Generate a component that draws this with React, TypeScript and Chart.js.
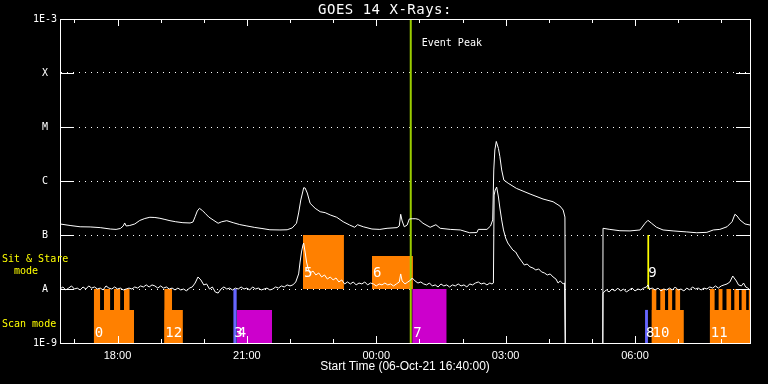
import { useEffect, useRef } from 'react';
import { Chart, registerables } from 'chart.js';

Chart.register(...registerables);

const TITLE = 'GOES 14 X-Rays:';
const X_TITLE = 'Start Time (06-Oct-21 16:40:00)';
const EVENT_LABEL = 'Event Peak';

// minutes after 16:40 start
const xTickMinutes = [20, 80, 140, 200, 260, 320, 380, 440, 500, 560, 620, 680, 740, 800, 860, 920];
const xTickLabels = ['', '18:00', '', '', '21:00', '', '', '00:00', '', '', '03:00', '', '', '06:00', '', ''];
const yTickValues = [1e-9, 1e-8, 1e-7, 1e-6, 1e-5, 1e-4, 1e-3];
const yTickLabels = ['1E-9', 'A', 'B', 'C', 'M', 'X', '1E-3'];

const eventPeakMinute = 488;

// GOES long channel (1-8 A), [minute, W/m^2]
const longChannel: [number, number][] = [
  [0, 1.6e-7], [14, 1.5e-7], [28, 1.42e-7], [42, 1.41e-7], [56, 1.37e-7], [70, 1.29e-7], [78, 1.27e-7],
  [84, 1.32e-7], [88, 1.47e-7], [90, 1.67e-7], [92, 1.47e-7], [97, 1.5e-7], [104, 1.6e-7], [111, 1.86e-7],
  [118, 2.02e-7], [125, 2.13e-7], [132, 2.11e-7], [139, 2.04e-7], [146, 1.94e-7], [153, 1.84e-7], [161, 1.76e-7],
  [171, 1.69e-7], [181, 1.67e-7], [185, 1.74e-7], [188, 2.18e-7], [191, 2.78e-7], [194, 3.12e-7], [198, 2.84e-7],
  [202, 2.52e-7], [207, 2.15e-7], [213, 1.9e-7], [220, 1.65e-7], [225, 1.76e-7], [232, 1.84e-7], [241, 1.69e-7],
  [250, 1.56e-7], [260, 1.47e-7], [271, 1.38e-7], [281, 1.32e-7], [292, 1.25e-7], [306, 1.24e-7], [316, 1.25e-7],
  [323, 1.35e-7], [329, 1.65e-7], [332, 2.56e-7], [335, 4.45e-7], [338, 6.52e-7], [339, 7.5e-7], [341, 7.42e-7],
  [344, 5.99e-7], [348, 3.86e-7], [355, 3.12e-7], [362, 2.7e-7], [369, 2.59e-7], [376, 2.35e-7], [385, 2.13e-7],
  [394, 1.76e-7], [403, 1.53e-7], [410, 1.39e-7], [414, 1.55e-7], [422, 1.42e-7], [434, 1.29e-7], [445, 1.27e-7],
  [455, 1.33e-7], [469, 1.37e-7], [472, 1.47e-7], [474, 2.42e-7], [476, 1.82e-7], [479, 1.42e-7], [483, 1.53e-7],
  [486, 1.98e-7], [490, 2.0e-7], [495, 2.0e-7], [499, 1.94e-7], [505, 1.65e-7], [515, 1.39e-7], [523, 1.55e-7],
  [529, 1.33e-7], [543, 1.27e-7], [557, 1.24e-7], [570, 1.1e-7], [580, 1.11e-7], [582, 1.27e-7], [594, 1.27e-7],
  [599, 1.47e-7], [602, 1.9e-7], [603.5, 1.6e-6], [605, 3.75e-6], [607, 5.4e-6], [610, 4.0e-6], [612, 2.82e-6],
  [614.5, 1.6e-6], [617.5, 1.04e-6], [623.5, 9.1e-7], [635, 7.3e-7], [654, 5.74e-7], [672, 4.64e-7], [686, 4.13e-7],
  [695.5, 3.44e-7], [700, 2.9e-7], [702.5, 2.15e-7], [703.5, 1e-10], [755, 1e-10], [755.5, 1.33e-7], [765, 1.27e-7],
  [779, 1.2e-7], [793, 1.19e-7], [807, 1.24e-7], [814, 1.65e-7], [818, 1.87e-7], [823, 1.65e-7], [830, 1.39e-7],
  [839, 1.24e-7], [853, 1.19e-7], [872, 1.14e-7], [886, 1.1e-7], [900, 1.12e-7], [909, 1.24e-7], [918, 1.27e-7],
  [928, 1.42e-7], [935, 1.76e-7], [939, 2.42e-7], [942, 2.25e-7], [946, 1.9e-7], [953, 1.6e-7], [960, 1.53e-7],
];

// GOES short channel (0.5-4 A), [minute, W/m^2]
const shortChannel: [number, number][] = [
  [0, 1.0e-8], [4, 1.09e-8], [8, 9.6e-9], [12, 1.04e-8], [16, 1.14e-8], [20, 1.0e-8], [24, 1.04e-8], [28, 9.6e-9],
  [32, 1.09e-8], [36, 1.0e-8], [40, 1.14e-8], [44, 1.04e-8], [48, 1.09e-8], [52, 1.0e-8], [56, 1.04e-8], [60, 9.6e-9],
  [64, 1.14e-8], [68, 1.04e-8], [72, 1.0e-8], [76, 1.09e-8], [80, 1.0e-8], [84, 1.04e-8], [88, 9.6e-9], [92, 1.0e-8],
  [96, 1.04e-8], [100, 1.0e-8], [104, 1.09e-8], [108, 1.04e-8], [112, 1.14e-8], [116, 1.09e-8], [120, 1.19e-8],
  [124, 1.09e-8], [128, 1.19e-8], [132, 1.14e-8], [136, 1.04e-8], [140, 1.14e-8], [144, 1.04e-8], [148, 1.09e-8],
  [152, 1.0e-8], [156, 1.04e-8], [160, 9.6e-9], [164, 1.04e-8], [168, 9.6e-9], [172, 1.0e-8], [176, 9.2e-9],
  [180, 1.04e-8], [184, 1.09e-8], [188, 1.29e-8], [192, 1.67e-8], [196, 1.47e-8], [200, 1.19e-8], [204, 1.24e-8],
  [208, 1.0e-8], [212, 1.09e-8], [216, 8.8e-9], [220, 8.4e-9], [224, 1.0e-8], [228, 1.09e-8], [232, 1.0e-8],
  [236, 1.04e-8], [240, 9.6e-9], [244, 1.04e-8], [248, 1.0e-8], [252, 1.09e-8], [256, 1.0e-8], [260, 1.04e-8],
  [264, 9.6e-9], [268, 1.09e-8], [272, 1.0e-8], [276, 1.04e-8], [280, 9.6e-9], [284, 1.0e-8], [288, 1.04e-8],
  [292, 9.6e-9], [296, 1.0e-8], [300, 1.09e-8], [304, 1.04e-8], [308, 1.14e-8], [312, 1.09e-8], [316, 1.19e-8],
  [320, 1.14e-8], [324, 1.19e-8], [328, 1.35e-8], [332, 1.9e-8], [334, 3.16e-8], [336, 4.84e-8], [338, 6.52e-8],
  [339, 7.1e-8], [341, 4.84e-8], [343, 3.16e-8], [345, 2.45e-8], [348, 1.98e-8], [352, 2.15e-8], [356, 1.82e-8],
  [360, 1.98e-8], [364, 1.67e-8], [368, 1.82e-8], [372, 1.53e-8], [376, 1.67e-8], [380, 1.47e-8], [384, 1.6e-8],
  [388, 1.35e-8], [392, 1.47e-8], [396, 1.24e-8], [400, 1.35e-8], [404, 1.24e-8], [408, 1.35e-8], [412, 1.19e-8],
  [416, 1.29e-8], [420, 1.24e-8], [424, 1.35e-8], [428, 1.19e-8], [432, 1.29e-8], [436, 1.24e-8], [440, 1.14e-8],
  [444, 1.24e-8], [448, 1.19e-8], [452, 1.29e-8], [456, 1.19e-8], [460, 1.24e-8], [464, 1.14e-8], [468, 1.24e-8],
  [472, 1.35e-8], [474, 1.9e-8], [476, 1.41e-8], [480, 1.24e-8], [484, 1.35e-8], [488, 1.47e-8], [490, 1.6e-8],
  [494, 1.41e-8], [498, 1.29e-8], [502, 1.35e-8], [506, 1.24e-8], [510, 1.19e-8], [514, 1.29e-8], [518, 1.14e-8],
  [522, 1.19e-8], [526, 1.09e-8], [530, 1.24e-8], [534, 1.14e-8], [538, 1.19e-8], [542, 1.09e-8], [546, 1.19e-8],
  [550, 1.14e-8], [554, 1.24e-8], [558, 1.14e-8], [562, 1.19e-8], [566, 1.09e-8], [570, 1.24e-8], [574, 1.19e-8],
  [578, 1.29e-8], [582, 1.35e-8], [586, 1.24e-8], [590, 1.29e-8], [594, 1.19e-8], [598, 1.29e-8], [601, 1.24e-8],
  [603, 1.29e-8], [604, 5.5e-7], [605.5, 6.81e-7], [607.5, 7.74e-7], [610, 5.05e-7], [612, 3.16e-7], [614.5, 1.9e-7],
  [617, 1.24e-7], [620, 8.8e-8], [623, 7.11e-8], [626, 6.25e-8], [630, 5.27e-8], [634, 4.84e-8], [638, 3.91e-8],
  [642, 3.3e-8], [646, 2.78e-8], [650, 2.9e-8], [654, 2.56e-8], [658, 2.45e-8], [662, 2.25e-8], [666, 2.35e-8],
  [670, 2.07e-8], [674, 1.98e-8], [678, 1.82e-8], [682, 1.9e-8], [686, 1.67e-8], [690, 1.53e-8], [693, 1.29e-8],
  [696, 1.41e-8], [700, 1.24e-8], [702, 1.29e-8], [703.5, 1e-10], [755, 1e-10], [755.5, 8.4e-9], [760, 9.6e-9],
  [764, 8.8e-9], [768, 1.0e-8], [772, 9.2e-9], [776, 1.04e-8], [780, 9.2e-9], [784, 1.0e-8], [788, 8.8e-9],
  [792, 9.6e-9], [796, 1.04e-8], [800, 9.2e-9], [804, 1.0e-8], [808, 9.6e-9], [812, 1.04e-8], [816, 1.09e-8],
  [818, 1.19e-8], [820, 1.0e-8], [824, 1.04e-8], [828, 9.6e-9], [832, 1.04e-8], [836, 9.2e-9], [840, 1.0e-8],
  [844, 9.6e-9], [848, 1.04e-8], [852, 9.6e-9], [856, 1.09e-8], [860, 9.6e-9], [864, 1.0e-8], [868, 9.2e-9],
  [872, 1.04e-8], [876, 9.6e-9], [880, 1.09e-8], [884, 1.0e-8], [888, 1.04e-8], [892, 9.6e-9], [896, 1.04e-8],
  [900, 1.0e-8], [904, 1.09e-8], [908, 1.04e-8], [912, 1.14e-8], [916, 1.04e-8], [920, 1.14e-8], [924, 1.19e-8],
  [928, 1.24e-8], [932, 1.35e-8], [936, 1.74e-8], [938, 1.6e-8], [941, 1.41e-8], [944, 1.19e-8], [948, 1.14e-8],
  [951, 1.29e-8], [954, 1.09e-8], [957, 1.04e-8], [960, 9.6e-9],
];

// observation windows (minutes after start)
const obsLabels = ['0', '12', '3', '4', '5', '6', '7', '8', '9', '10', '11'];
const obsStart = [47, 145, 241, 246, 338, 434, 490, 814, 817, 823, 904];
const obsEnd = [103, 171, 246, 295, 395, 491, 538, 818, 820, 868, 963];
const obsMode = ['scan', 'scan', 'scan', 'scan', 'sit', 'sit', 'scan', 'scan', 'sit', 'scan', 'scan'];
const obsKind = ['std', 'std', 'cal', 'alt', 'std', 'std', 'alt', 'cal', 'sns', 'std', 'std'];
const obsFull = [false, false, true, false, true, false, true, false, true, false, false];
const obsBursts: [number, number][][] = [
  [[47, 56], [61, 70], [75, 84], [89, 97]],
  [[145, 156]],
  [], [], [], [], [], [], [],
  [[823, 830], [835, 842], [846, 852], [856, 863]],
  [[904, 911], [916, 922], [927, 934], [938, 945], [948, 955], [958, 963]],
];

// band levels per mode
const modeFloor: Record<string, number> = { scan: 1e-9, sit: 1e-8 };
const modeTop: Record<string, number> = { scan: 1e-8, sit: 1e-7 };
const modeHalf: Record<string, number> = { scan: 4.1e-9, sit: 4.1e-8 };

// styles
const KIND_COLORS: Record<string, string> = { std: '#ff8000', alt: '#cc00cc', cal: '#6666ff', sns: '#ffff00' };
const MONO = '"DejaVu Sans Mono", "Liberation Mono", monospace';
const SANS = '"Liberation Sans", Arial, sans-serif';

export default function App() {
  const ref = useRef<HTMLCanvasElement | null>(null);

  useEffect(() => {
    document.body.style.margin = '0';
    document.body.style.background = '#000';
    const canvas = ref.current;
    if (!canvas) return;

    const rectDatasets: any[] = [];
    obsLabels.forEach((_, i) => {
      const mode = obsMode[i];
      const color = KIND_COLORS[obsKind[i]];
      const rects: [number, number, number][] = [
        [obsStart[i], obsEnd[i], obsFull[i] ? modeTop[mode] : modeHalf[mode]],
      ];
      obsBursts[i].forEach(([s, e]) => rects.push([s, e, modeTop[mode]]));
      rects.forEach(([s, e, top]) => {
        rectDatasets.push({
          data: [{ x: s, y: top }, { x: e, y: top }],
          fill: { value: modeFloor[mode] },
          backgroundColor: color,
          borderColor: 'rgba(0,0,0,0)',
          borderWidth: 0,
          pointRadius: 0,
          order: 3,
        });
      });
    });

    const overlay = {
      id: 'overlay',
      afterDatasetsDraw(chart: any) {
        const { ctx, chartArea, scales, width } = chart;
        const { left, top, right, bottom } = chartArea;
        const xs = scales.x;
        const ys = scales.y;
        const line = (x1: number, y1: number, x2: number, y2: number) => {
          ctx.beginPath();
          ctx.moveTo(x1, y1);
          ctx.lineTo(x2, y2);
          ctx.stroke();
        };
        ctx.save();
        ctx.strokeStyle = '#fff';
        ctx.lineWidth = 1;
        ctx.strokeRect(left + 0.5, top + 0.5, right - left, bottom - top);
        xTickMinutes.forEach((m, i) => {
          const px = Math.round(xs.getPixelForValue(m)) + 0.5;
          const len = xTickLabels[i] ? 7 : 4;
          line(px, bottom, px, bottom - len);
          line(px, top, px, top + len);
        });
        yTickValues.slice(1, -1).forEach((v) => {
          const py = Math.round(ys.getPixelForValue(v)) + 0.5;
          line(left, py, left + 14, py);
          line(right - 14, py, right, py);
        });

        // title
        ctx.fillStyle = '#fff';
        ctx.font = `14px ${MONO}`;
        ctx.textAlign = 'center';
        ctx.textBaseline = 'middle';
        try { (ctx as any).letterSpacing = '0.5px'; } catch (e) { /* ignore */ }
        ctx.fillText(TITLE, width / 2 + 1, top - 9);
        try { (ctx as any).letterSpacing = '0px'; } catch (e) { /* ignore */ }

        // observation numbers
        ctx.font = `14px ${MONO}`;
        ctx.textAlign = 'left';
        obsLabels.forEach((lab, i) => {
          const mode = obsMode[i];
          const px = xs.getPixelForValue(obsStart[i]) + 1;
          const py = ys.getPixelForValue(modeFloor[mode]) - (mode === 'scan' ? 10 : 16);
          ctx.fillText(lab, px, py);
        });

        // event peak label
        ctx.font = `10px ${MONO}`;
        ctx.fillText(EVENT_LABEL, xs.getPixelForValue(eventPeakMinute) + 11, top + 24);

        // mode labels
        ctx.fillStyle = '#ffff00';
        const aY = ys.getPixelForValue(1e-8);
        ctx.fillText('Sit & Stare', 2, aY - 30);
        ctx.fillText('  mode', 2, aY - 18);
        ctx.fillText('Scan mode', 2, ys.getPixelForValue(1e-9) - 19);
        ctx.restore();
      },
    };

    const chart = new Chart(canvas, {
      type: 'line',
      data: {
        datasets: [
          {
            data: longChannel.map(([x, y]) => ({ x, y })),
            borderColor: '#fff',
            borderWidth: 1,
            pointRadius: 0,
            fill: false,
            tension: 0,
            order: 0,
          },
          {
            data: shortChannel.map(([x, y]) => ({ x, y })),
            borderColor: '#fff',
            borderWidth: 1,
            pointRadius: 0,
            fill: false,
            tension: 0,
            order: 0,
          },
          {
            data: [{ x: eventPeakMinute, y: 1e-3 }, { x: eventPeakMinute, y: 1e-9 }],
            borderColor: '#9acd00',
            borderWidth: 2,
            pointRadius: 0,
            fill: false,
            order: 1,
          },
          ...rectDatasets,
        ],
      },
      plugins: [overlay],
      options: {
        responsive: false,
        animation: false,
        devicePixelRatio: 1,
        events: [],
        layout: { padding: { left: 0, right: 18, top: 19, bottom: 0 } },
        plugins: {
          legend: { display: false },
          tooltip: { enabled: false },
          title: { display: false },
        },
        scales: {
          x: {
            type: 'linear',
            min: 0,
            max: 960,
            afterFit: (s: any) => {
              s.height = 41;
            },
            afterBuildTicks: (s: any) => {
              s.ticks = xTickMinutes.map((v) => ({ value: v }));
            },
            grid: { display: false, drawTicks: false },
            border: { display: true, color: '#fff' },
            ticks: {
              color: '#fff',
              font: { family: SANS, size: 11 },
              padding: 6,
              autoSkip: false,
              maxRotation: 0,
              minRotation: 0,
              callback: (_v: any, i: number) => xTickLabels[i],
            },
            title: {
              display: true,
              text: X_TITLE,
              color: '#fff',
              font: { family: SANS, size: 12 },
              padding: { top: 0, bottom: 10 },
            },
          },
          y: {
            type: 'logarithmic',
            min: 1e-9,
            max: 1e-3,
            afterFit: (s: any) => {
              s.width = 60;
            },
            afterBuildTicks: (s: any) => {
              s.ticks = yTickValues.map((v) => ({ value: v }));
            },
            grid: { display: true, color: '#fff', lineWidth: 1, drawTicks: false },
            border: { display: true, color: '#fff', dash: [1, 5] },
            ticks: {
              color: '#fff',
              font: { family: MONO, size: 10 },
              padding: 3,
              crossAlign: 'center',
              autoSkip: false,
              callback: (_v: any, i: number) => yTickLabels[i],
            },
          },
        },
      } as any,
    });

    return () => chart.destroy();
  }, []);

  return (
    <div style={{ position: 'fixed', left: 0, top: 0, width: 768, height: 384, background: '#000' }}>
      <canvas ref={ref} width={768} height={384} style={{ display: 'block', background: '#000' }} />
    </div>
  );
}
